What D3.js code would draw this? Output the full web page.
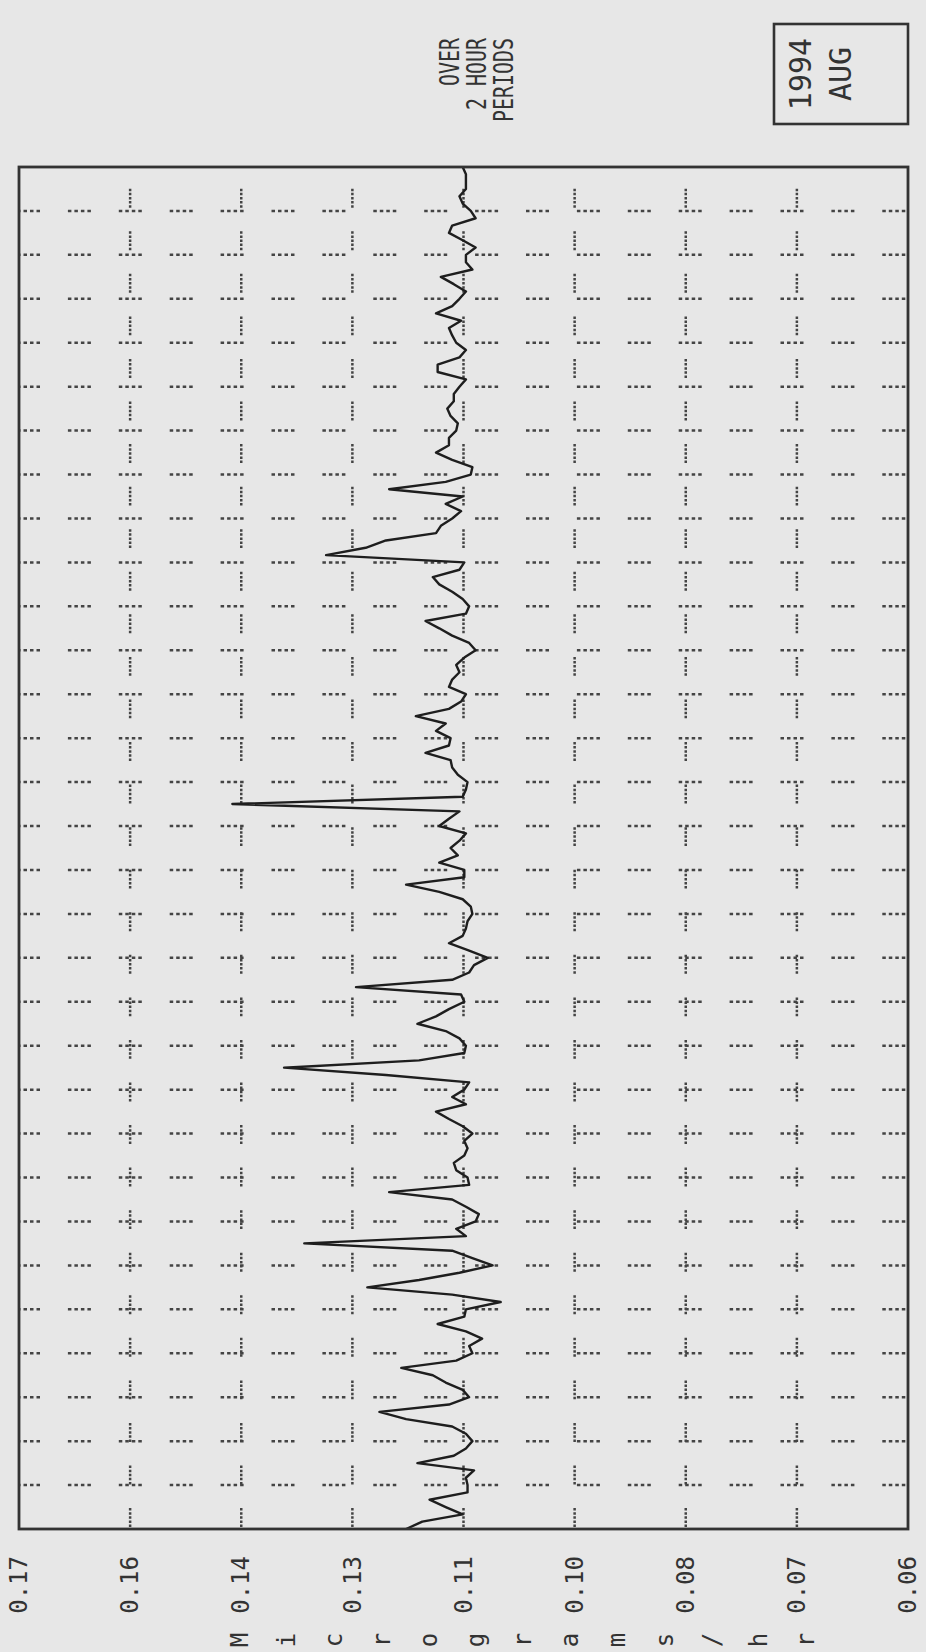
<!DOCTYPE html>
<html>
<head>
    <meta charset="utf-8">
    <!-- Load d3.js -->
    <script src="https://d3js.org/d3.v7.min.js"></script>
    <style>
        body { margin: 0; background: #e7e7e7; }
        svg { display: block; }
        text { font-family: "DejaVu Sans Mono", monospace; fill: #333; }
    </style>
</head>
<body>
    <script>
        // data: one reading per 4 hours, August 1994 (31 days x 6 + 1)
        const values = [
            0.1221, 0.1201, 0.1151, 0.1172, 0.1192, 0.1145, 0.1145, 0.1147, 0.1137, 0.1207,
            0.1162, 0.1147, 0.1139, 0.1147, 0.1164, 0.1221, 0.1254, 0.1168, 0.1143, 0.1151,
            0.1172, 0.1188, 0.1227, 0.1159, 0.1139, 0.1143, 0.1127, 0.1147, 0.1182, 0.1149,
            0.1147, 0.1104, 0.1164, 0.1269, 0.1205, 0.1155, 0.1114, 0.1139, 0.1164, 0.1347,
            0.1147, 0.1159, 0.1135, 0.1131, 0.1147, 0.1164, 0.1242, 0.1143, 0.1145, 0.1159,
            0.1162, 0.1149, 0.1145, 0.1149, 0.1139, 0.1151, 0.1168, 0.1184, 0.1147, 0.1164,
            0.1149, 0.1143, 0.1246, 0.1372, 0.1205, 0.1149, 0.1147, 0.1155, 0.1172, 0.1207,
            0.1184, 0.1168, 0.1149, 0.1153, 0.1283, 0.1164, 0.1143, 0.1137, 0.1120, 0.1143,
            0.1168, 0.1151, 0.1147, 0.1145, 0.1139, 0.1141, 0.1151, 0.1180, 0.1221, 0.1149,
            0.1149, 0.1180, 0.1157, 0.1166, 0.1155, 0.1147, 0.1180, 0.1168, 0.1155, 0.1436,
            0.1151, 0.1147, 0.1145, 0.1157, 0.1164, 0.1166, 0.1197, 0.1168, 0.1166, 0.1184,
            0.1172, 0.1209, 0.1168, 0.1153, 0.1147, 0.1168, 0.1164, 0.1155, 0.1159, 0.1149,
            0.1135, 0.1143, 0.1164, 0.1180, 0.1197, 0.1147, 0.1143, 0.1151, 0.1164, 0.1180,
            0.1188, 0.1155, 0.1149, 0.1320, 0.1271, 0.1246, 0.1184, 0.1178, 0.1164, 0.1153,
            0.1172, 0.1151, 0.1242, 0.1172, 0.1141, 0.1139, 0.1164, 0.1184, 0.1168, 0.1168,
            0.1159, 0.1157, 0.1166, 0.1170, 0.1162, 0.1162, 0.1155, 0.1147, 0.1182, 0.1182,
            0.1155, 0.1147, 0.1159, 0.1164, 0.1168, 0.1153, 0.1184, 0.1164, 0.1155, 0.1147,
            0.1162, 0.1178, 0.1139, 0.1147, 0.1147, 0.1135, 0.1151, 0.1168, 0.1164, 0.1135,
            0.1141, 0.1151, 0.1155, 0.1147, 0.1147, 0.1147, 0.1151
        ];
        const perDay = 6;
        const valueDomain = [0.06, 0.17];
        const tickLabels = ["0.06", "0.07", "0.08", "0.10", "0.11", "0.13", "0.14", "0.16", "0.17"];
        const axisTitle = "Micrograms/hr";
        const titleLines = ["OVER", "2 HOUR", "PERIODS"];
        const dateLines = ["1994", "AUG"];

        // page and plot box (the chart is printed sideways)
        const svg = d3.select("body")
            .append("svg")
            .attr("width", 926)
            .attr("height", 1652);
        const box = { left: 19, right: 908, top: 167, bottom: 1529 };
        const W = box.bottom - box.top;   // time runs up the page
        const H = box.right - box.left;   // values run across the page

        // landscape frame rotated a quarter turn
        const chart = svg.append("g")
            .attr("transform", `translate(${box.left},${box.bottom}) rotate(-90)`);

        const xScale = d3.scaleLinear()
            .domain([0, values.length - 1])
            .range([0, W]);
        const yScale = d3.scaleLinear()
            .domain(valueDomain)
            .range([H, 0]);
        const tickValues = d3.range(tickLabels.length)
            .map(i => valueDomain[0] + i * (valueDomain[1] - valueDomain[0]) / (tickLabels.length - 1));
        const days = (values.length - 1) / perDay;

        chart.append("clipPath").attr("id", "plot")
            .append("rect").attr("width", W).attr("height", H);
        const grid = chart.append("g").attr("clip-path", "url(#plot)");

        // day lines: short dotted dashes
        grid.selectAll(".day")
            .data(d3.range(1, days))
            .join("line")
            .attr("x1", d => xScale(d * perDay))
            .attr("x2", d => xScale(d * perDay))
            .attr("y1", 0)
            .attr("y2", H)
            .attr("stroke", "#444")
            .attr("stroke-width", 2.5)
            .attr("stroke-dasharray", "3.5,3,3.5,3,3.5,3,3.5,27.9")
            .attr("stroke-dashoffset", 2);

        // value lines: short dotted dashes
        grid.selectAll(".val")
            .data(tickValues.slice(1, -1))
            .join("line")
            .attr("x1", 0)
            .attr("x2", W)
            .attr("y1", d => yScale(d))
            .attr("y2", d => yScale(d))
            .attr("stroke", "#444")
            .attr("stroke-width", 2.5)
            .attr("stroke-dasharray", `2.5,1.6,2.5,1.6,2.5,1.6,2.5,1.6,2.5,${(W / 32 - 18.9).toFixed(2)}`)
            .attr("stroke-dashoffset", -2);

        // trace
        const line = d3.line()
            .x((d, i) => xScale(i))
            .y(d => yScale(d));
        chart.append("path")
            .datum(values)
            .attr("fill", "none")
            .attr("stroke", "#1e1e1e")
            .attr("stroke-width", 2.4)
            .attr("stroke-linejoin", "round")
            .attr("d", line);

        // frame
        chart.append("rect")
            .attr("width", W)
            .attr("height", H)
            .attr("fill", "none")
            .attr("stroke", "#333")
            .attr("stroke-width", 2.8);

        // value axis
        const axis = chart.append("g")
            .call(d3.axisLeft(yScale)
                .tickValues(tickValues)
                .tickFormat((d, i) => tickLabels[i])
                .tickSize(0)
                .tickPadding(27));
        axis.select(".domain").remove();
        axis.selectAll("text")
            .attr("font-size", 24)
            .attr("font-family", "DejaVu Sans Mono")
            .attr("fill", "#333");

        // axis title, one letter per line
        const letterPos = d3.scalePoint()
            .domain(d3.range(axisTitle.length))
            .range([221, 787]);
        chart.append("g")
            .selectAll("text")
            .data(axisTitle.split(""))
            .join("text")
            .attr("x", -111)
            .attr("y", (d, i) => letterPos(i))
            .attr("text-anchor", "middle")
            .attr("dominant-baseline", "central")
            .attr("font-size", 24)
            .text(d => d);

        // heading
        chart.append("g")
            .selectAll("text")
            .data(titleLines)
            .join("text")
            .attr("x", 1491)
            .attr("y", (d, i) => 431 + i * 27)
            .attr("text-anchor", "end")
            .attr("dominant-baseline", "central")
            .attr("font-size", 26)
            .attr("textLength", d => d.length * 12)
            .attr("lengthAdjust", "spacingAndGlyphs")
            .text(d => d);

        // date box
        chart.append("rect")
            .attr("x", 1405)
            .attr("y", 755)
            .attr("width", 100)
            .attr("height", H - 755)
            .attr("fill", "none")
            .attr("stroke", "#333")
            .attr("stroke-width", 2.6);
        chart.append("g")
            .selectAll("text")
            .data(dateLines)
            .join("text")
            .attr("x", 1455)
            .attr("y", (d, i) => 781 + i * 40)
            .attr("text-anchor", "middle")
            .attr("dominant-baseline", "central")
            .attr("font-size", 30)
            .text(d => d);
    </script>
</body>
</html>
